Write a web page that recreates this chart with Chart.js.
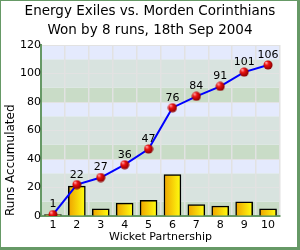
<!DOCTYPE html>
<html>
<head>
<meta charset="utf-8">
<script src="https://cdn.jsdelivr.net/npm/chart.js@4"></script>
<style>
  html, body { margin: 0; padding: 0; background: #fff; }
  #wrap { width: 300px; height: 250px; }
</style>
</head>
<body>
<div id="wrap"><canvas id="chart" width="300" height="250"></canvas></div>
<script>
// Wicket partnerships, Energy Exiles v Morden Corinthians
const wickets = ['1', '2', '3', '4', '5', '6', '7', '8', '9', '10'];
const partnershipRuns = [1, 21, 5, 9, 11, 29, 8, 7, 10, 5];
const runsAccumulated = [1, 22, 27, 36, 47, 76, 84, 91, 101, 106];
const titleLines = ['Energy Exiles vs. Morden Corinthians', 'Won by 8 runs, 18th Sep 2004'];

const FONT = '"DejaVu Sans", Verdana, sans-serif';

// shiny red ball for the points
function makeBall(r) {
    const c = document.createElement('canvas');
    c.width = r * 2 + 1;
    c.height = r * 2 + 1;
    const g = c.getContext('2d');
    const grad = g.createRadialGradient(r * 0.7, r * 0.6, 0.5, r, r, r + 0.5);
    grad.addColorStop(0, '#ff9a9a');
    grad.addColorStop(0.35, '#ee1111');
    grad.addColorStop(1, '#8a0000');
    g.fillStyle = grad;
    g.beginPath();
    g.arc(r + 0.5, r + 0.5, r, 0, Math.PI * 2);
    g.fill();
    return c;
}
const ball = makeBall(4.5);

// striped plot background
const bandsPlugin = {
    id: 'bands',
    beforeDraw(chart) {
        const { ctx, chartArea: a, scales: { y } } = chart;
        const colors = ['#c9dcc7', '#d8e3df', '#d8e3df', '#e4eafd']; // per 10 runs, bottom up
        ctx.save();
        for (let v = 0; v < 120; v += 10) {
            const top = y.getPixelForValue(v + 10);
            const bot = y.getPixelForValue(v);
            ctx.fillStyle = colors[(v / 10) % 4];
            ctx.fillRect(a.left, top, a.right - a.left, bot - top);
        }
        ctx.restore();
    }
};

// value labels over the line points + outer frame
const labelsPlugin = {
    id: 'labels',
    afterDatasetsDraw(chart) {
        const { ctx } = chart;
        const meta = chart.getDatasetMeta(0);
        ctx.save();
        ctx.font = '11px ' + FONT;
        ctx.fillStyle = '#000';
        ctx.textAlign = 'center';
        ctx.textBaseline = 'middle';
        meta.data.forEach((pt, i) => {
            ctx.fillText(String(runsAccumulated[i]), pt.x, pt.y - 10);
        });
        ctx.restore();
    },
    afterDraw(chart) {
        const { ctx, width, height } = chart;
        ctx.save();
        ctx.fillStyle = '#669966';
        ctx.fillRect(0, 0, width, 1);
        ctx.fillRect(0, 0, 1, height);
        ctx.fillRect(width - 3, 0, 3, height);
        ctx.fillRect(0, height - 3, width, 3);
        ctx.restore();
    }
};

new Chart(document.getElementById('chart'), {
    data: {
        labels: wickets,
        datasets: [
            {
                type: 'line',
                label: 'Runs Accumulated',
                data: runsAccumulated,
                borderColor: '#0000ff',
                borderWidth: 2,
                pointStyle: ball,
                pointRadius: 4.5,
                tension: 0,
                fill: false,
                order: 0
            },
            {
                type: 'bar',
                label: 'Partnership',
                data: partnershipRuns,
                barThickness: 17,
                borderColor: '#000',
                borderWidth: 1.5,
                backgroundColor: function(context) {
                    const chart = context.chart;
                    if (!chart.chartArea || !chart.scales.x) return '#f8d000';
                    const x = chart.scales.x.getPixelForValue(context.dataIndex);
                    const g = chart.ctx.createLinearGradient(x - 8.5, 0, x + 8.5, 0);
                    g.addColorStop(0, '#eea200');
                    g.addColorStop(1, '#ffff10');
                    return g;
                },
                order: 1
            }
        ]
    },
    options: {
        responsive: false,
        animation: false,
        layout: { padding: { top: 45, right: 20, left: 0, bottom: 0 } },
        plugins: {
            legend: { display: false },
            tooltip: { enabled: false },
            title: { display: false }
        },
        scales: {
            x: {
                offset: true,
                grid: { color: '#e2e2e2', lineWidth: 1.5, drawTicks: false, offset: true },
                border: { color: '#669966', width: 2 },
                ticks: { color: '#000', font: { family: FONT, size: 11 }, padding: 3, maxRotation: 0 },
                title: { display: true, text: 'Wicket Partnership', color: '#000', font: { family: FONT, size: 11 }, padding: { top: 0, bottom: 6 } },
                afterFit(scale) { scale.height = 34; }
            },
            y: {
                min: 0,
                max: 120,
                ticks: { stepSize: 20, color: '#000', font: { family: FONT, size: 11 }, padding: 0 },
                grid: { color: '#e2e2e2', lineWidth: 1, drawTicks: false },
                border: { color: '#669966', width: 2 },
                title: { display: true, text: 'Runs Accumulated', align: 'start', color: '#000', font: { family: FONT, size: 12 }, padding: { top: 4, bottom: 0 } },
                afterFit(scale) { scale.width = 41; }
            }
        }
    },
    plugins: [bandsPlugin, labelsPlugin, {
        id: 'heading',
        afterDraw(chart) {
            const ctx = chart.ctx;
            ctx.save();
            ctx.font = '13.5px ' + FONT;
            ctx.fillStyle = '#000';
            ctx.textAlign = 'center';
            ctx.textBaseline = 'middle';
            ctx.fillText(titleLines[0], 150, 11);
            ctx.fillText(titleLines[1], 150, 30);
            ctx.restore();
        }
    }]
});
</script>
</body>
</html>
